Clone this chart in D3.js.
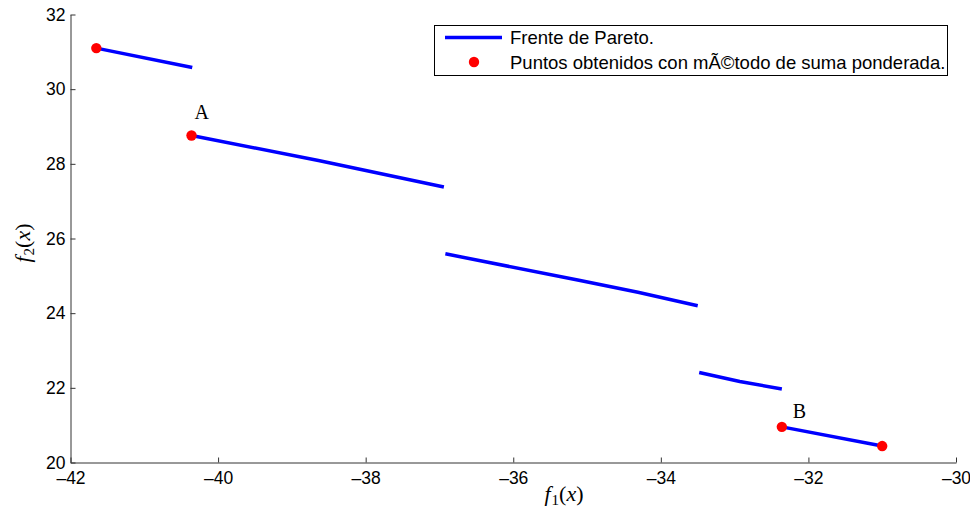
<!DOCTYPE html>
<html>
<head>
<meta charset="utf-8">
<script src="https://cdn.jsdelivr.net/npm/d3@7"></script>
<style>
  html, body { margin: 0; padding: 0; background: #fff; }
  svg { display: block; }
  .tick text { font-family: "Liberation Sans", Arial, sans-serif; font-size: 17.5px; fill: #000; }
  .axis path, .axis line { stroke: #333; stroke-width: 1; }
</style>
</head>
<body>
<svg id="chart" width="970" height="510"></svg>
<script>
// Pareto front pieces, each a list of [f1, f2] vertices
const segment1 = [[-41.65, 31.10], [-40.35, 30.58]];
const segment2 = [[-40.36, 28.76], [-38.64, 28.09], [-36.94, 27.38]];
const segment3 = [[-36.92, 25.59], [-35.11, 24.88], [-34.31, 24.56], [-33.50, 24.20]];
const segment4 = [[-33.48, 22.41], [-32.93, 22.17], [-32.36, 21.97]];
const segment5 = [[-32.36, 20.955], [-31.00, 20.44]];
const frontSegments = [segment1, segment2, segment3, segment4, segment5];

// Points found with the weighted-sum method
const weightedPoints = [[-41.65, 31.10], [-40.36, 28.76], [-32.36, 20.955], [-31.00, 20.44]];

// Annotated points
const annotations = [
  { name: "A", at: [-40.36, 28.76], dx: 3, dy: -16 },
  { name: "B", at: [-32.36, 20.955], dx: 11, dy: -9 }
];

const xTicks = [-42, -40, -38, -36, -34, -32, -30];
const yTicks = [20, 22, 24, 26, 28, 30, 32];
const legendLabels = ["Frente de Pareto.", "Puntos obtenidos con mÃ©todo de suma ponderada."];

const svg = d3.select("#chart");

const x = d3.scaleLinear().domain([-42, -30]).range([70.5, 956]);
const y = d3.scaleLinear().domain([20, 32]).range([462.5, 14.5]);

const fmt = d => (d < 0 ? "\u2013" + Math.abs(d) : String(d));

svg.append("g")
  .attr("class", "axis")
  .attr("transform", "translate(0,462.5)")
  .call(d3.axisBottom(x).tickValues(xTicks).tickFormat(fmt).tickSizeInner(-5).tickSizeOuter(0).tickPadding(9));

svg.append("g")
  .attr("class", "axis")
  .attr("transform", "translate(70.5,0)")
  .call(d3.axisLeft(y).tickValues(yTicks).tickFormat(fmt).tickSizeInner(-5).tickSizeOuter(0).tickPadding(5));

const line = d3.line().x(d => x(d[0])).y(d => y(d[1]));

svg.append("g")
  .selectAll("path")
  .data(frontSegments)
  .join("path")
  .attr("d", line)
  .attr("fill", "none")
  .attr("stroke", "#0000ff")
  .attr("stroke-width", 3.5);

svg.append("g")
  .selectAll("circle")
  .data(weightedPoints)
  .join("circle")
  .attr("cx", d => x(d[0]))
  .attr("cy", d => y(d[1]))
  .attr("r", 5.2)
  .attr("fill", "#ff0000");

svg.append("g")
  .selectAll("text")
  .data(annotations)
  .join("text")
  .attr("x", d => x(d.at[0]) + d.dx)
  .attr("y", d => y(d.at[1]) + d.dy)
  .attr("font-family", "'Liberation Serif', 'DejaVu Serif', serif")
  .attr("font-size", 20)
  .attr("fill", "#000")
  .text(d => d.name);

// Axis titles in math style: italic letters, upright digits and parentheses
function mathLabel(g, sub) {
  const t = g.append("text")
    .attr("font-family", "'Liberation Serif', 'DejaVu Serif', serif")
    .attr("font-size", 22)
    .attr("fill", "#000")
    .attr("text-anchor", "middle");
  t.append("tspan").attr("font-style", "italic").text("f");
  t.append("tspan").attr("font-size", 15).attr("dy", 4).attr("dx", 1).text(sub);
  t.append("tspan").attr("dy", -4).text("(");
  t.append("tspan").attr("font-style", "italic").text("x");
  t.append("tspan").text(")");
  return t;
}

mathLabel(svg.append("g").attr("transform", "translate(564,501)"), "1");
mathLabel(svg.append("g").attr("transform", "translate(30,243) rotate(-90)"), "2");

// Legend
const legend = svg.append("g");
legend.append("rect")
  .attr("x", 434.5).attr("y", 25.5)
  .attr("width", 513).attr("height", 50)
  .attr("fill", "#fff").attr("stroke", "#000").attr("stroke-width", 1);
legend.append("line")
  .attr("x1", 445).attr("x2", 502)
  .attr("y1", 37.5).attr("y2", 37.5)
  .attr("stroke", "#0000ff").attr("stroke-width", 3.5);
legend.append("circle")
  .attr("cx", 474).attr("cy", 62).attr("r", 5.2).attr("fill", "#ff0000");
legend.selectAll("text.lg")
  .data(legendLabels)
  .join("text")
  .attr("class", "lg")
  .attr("x", 510)
  .attr("y", (d, i) => 44 + i * 24.5)
  .attr("font-family", "'Liberation Sans', Arial, sans-serif")
  .attr("font-size", 18.5)
  .attr("fill", "#000")
  .text(d => d);
</script>
</body>
</html>
